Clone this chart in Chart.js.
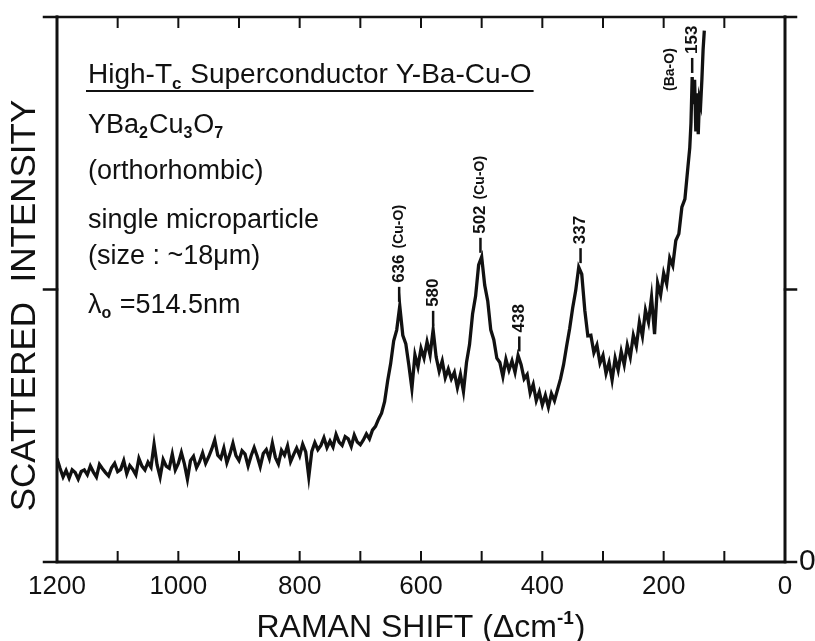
<!DOCTYPE html>
<html>
<head>
<meta charset="utf-8">
<script src="https://cdn.jsdelivr.net/npm/chart.js@4.4.1/dist/chart.umd.min.js"></script>
<style>
  html, body { margin: 0; padding: 0; background: #fff; }
  canvas { display: block; }
</style>
</head>
<body>
<canvas id="raman" width="815" height="641"></canvas>
<script>
// === DATA ===
// Raman shift, cm-1 (axis runs 1200 -> 0)
const shifts = [
  1200,1195,1190,1185,1180,1175,1170,1165,1160,1155,
  1150,1145,1140,1135,1130,1125,1120,1115,1110,1105,
  1100,1095,1090,1085,1080,1075,1070,1065,1060,1055,
  1050,1045,1040,1035,1030,1025,1020,1015,1010,1005,
  1000,995,990,985,980,975,970,965,960,955,
  950,945,940,935,930,925,920,915,910,905,
  900,895,890,885,880,875,870,865,860,855,
  850,845,840,835,830,825,820,815,810,805,
  800,795,790,785,780,775,770,765,760,755,
  750,745,740,735,730,725,720,715,710,705,
  700,695,690,685,680,675,670,665,660,655,
  650,645,640,635,630,625,620,615,610,605,
  600,595,590,585,580,575,570,565,560,555,
  550,545,540,535,530,525,520,515,510,505,
  500,495,490,485,480,475,470,465,460,455,
  450,445,440,435,430,425,420,415,410,405,
  400,395,390,385,380,375,370,365,360,355,
  350,345,340,335,330,325,320,315,310,305,
  300,295,290,285,280,275,270,265,260,255,
  250,245,240,235,230,225,220,215,210,205,
  200,195,190,185,180,175,170,165,
  160,157,155,153,151,149,147,145,143,141,139,137,135,133
];
// scattered intensity, arbitrary units (0 = bottom axis, 100 = top of frame)
const intensity = [
  19.0,17.2,15.6,16.8,15.4,16.9,16.4,15.2,16.6,16.9,
  16.0,17.6,16.5,15.6,17.9,17.1,16.4,15.8,17.3,18.1,
  16.6,17.0,18.6,16.2,17.7,17.0,16.0,19.0,17.6,16.9,
  18.3,17.4,21.6,17.8,15.6,18.8,17.6,17.2,19.8,16.9,
  18.1,20.1,18.0,15.2,18.6,19.4,17.3,18.4,20.0,18.1,
  19.3,20.7,22.4,19.6,19.0,20.9,18.2,19.8,21.8,19.5,
  18.6,20.4,19.8,17.6,19.5,21.0,19.4,17.5,19.9,20.6,
  19.0,21.8,19.2,18.0,20.5,19.6,21.3,18.4,19.7,20.9,
  19.5,21.6,20.2,15.6,20.3,21.9,20.6,21.4,22.8,21.0,
  22.2,21.1,23.4,22.0,21.4,23.0,22.6,21.2,23.3,22.0,
  21.5,22.4,23.5,22.6,24.2,24.9,26.2,27.3,29.4,33.2,
  36.4,40.6,42.6,47.0,41.6,40.0,36.1,31.8,38.0,35.8,
  39.2,37.4,40.4,38.0,42.6,37.6,35.0,36.9,33.8,35.4,
  33.6,34.8,32.0,34.4,31.3,36.6,39.9,45.5,48.8,54.5,
  56.0,50.8,47.9,42.6,40.8,37.4,36.6,34.0,37.2,35.2,
  36.9,34.8,37.9,36.2,33.6,34.4,31.0,32.6,29.6,31.2,
  28.8,30.6,28.4,30.9,29.6,31.6,33.6,36.2,39.6,42.8,
  46.6,49.8,54.1,52.8,46.2,41.5,41.6,38.4,39.8,36.5,
  37.9,34.6,36.6,33.4,37.4,35.2,38.6,36.2,39.8,37.6,
  41.6,39.6,44.0,41.4,46.2,44.0,48.6,41.8,51.2,49.0,
  53.0,51.0,55.8,54.4,59.0,60.2,65.1,66.6,
  72.5,76.0,80.5,89.0,84.0,88.5,79.0,86.0,78.5,85.0,84.0,88.5,94.0,97.5
];

// peak annotations
const peakShifts = [636, 580, 502, 438, 337, 153];
const peakLabels = ['636', '580', '502', '438', '337', '153'];
const peakModes  = ['(Cu-O)', '', '(Cu-O)', '', '', '(Ba-O)'];

// axis ticks
const xTickMarks = [1200, 1100, 1000, 900, 800, 700, 600, 500, 400, 300, 200, 100, 0];
const yTickMarks = [0, 50, 100];

const FONT = '"Liberation Sans", Arial, sans-serif';
const INK = '#111';

// draw text pieces in a row, subscripts smaller and lower
function richText(ctx, x, y, parts, size) {
  let cx = x;
  parts.forEach(p => {
    const small = typeof p !== 'string';
    const t = small ? (p.sub || p.sup) : p;
    ctx.font = small ? `bold ${Math.round(size * 0.6)}px ${FONT}` : `${size}px ${FONT}`;
    const dy = !small ? 0 : (p.sub ? size * 0.2 : -size * 0.42);
    ctx.fillText(t, cx, y + dy);
    cx += ctx.measureText(t).width + (small ? 1 : 0);
  });
  return cx;
}

// vertical text, reading bottom -> top, starting at (x, y)
function vText(ctx, text, x, y, font) {
  ctx.save();
  ctx.translate(x, y);
  ctx.rotate(-Math.PI / 2);
  ctx.font = font;
  ctx.textAlign = 'left';
  ctx.textBaseline = 'middle';
  ctx.fillText(text, 0, 0);
  const w = ctx.measureText(text).width;
  ctx.restore();
  return w;
}

const decor = {
  id: 'decor',
  afterDraw(chart) {
    const { ctx, chartArea: a, scales: { x, y } } = chart;
    ctx.save();
    ctx.strokeStyle = INK;
    ctx.fillStyle = INK;
    ctx.lineCap = 'square';

    // frame
    ctx.lineWidth = 3;
    ctx.beginPath();
    ctx.moveTo(a.left, a.top);
    ctx.lineTo(a.left, a.bottom);
    ctx.lineTo(a.right, a.bottom);
    ctx.lineTo(a.right, a.top);
    ctx.stroke();
    ctx.lineWidth = 2.5;
    ctx.beginPath();
    ctx.moveTo(a.left, a.top);
    ctx.lineTo(a.right, a.top);
    ctx.stroke();

    // x ticks point inward, top and bottom
    ctx.lineWidth = 2;
    xTickMarks.forEach(v => {
      const px = x.getPixelForValue(v);
      ctx.beginPath();
      ctx.moveTo(px, a.bottom);
      ctx.lineTo(px, a.bottom - 10);
      ctx.moveTo(px, a.top);
      ctx.lineTo(px, a.top + 10);
      ctx.stroke();
    });

    // y ticks point outward, both sides
    ctx.lineWidth = 2.5;
    yTickMarks.forEach(v => {
      const py = y.getPixelForValue(v);
      ctx.beginPath();
      ctx.moveTo(a.left - 13, py);
      ctx.lineTo(a.left, py);
      ctx.moveTo(a.right, py);
      ctx.lineTo(a.right + 11, py);
      ctx.stroke();
    });

    // right-hand zero
    ctx.font = `30px ${FONT}`;
    ctx.textAlign = 'left';
    ctx.textBaseline = 'middle';
    ctx.fillText('0', a.right + 14, y.getPixelForValue(0));

    // axis titles
    ctx.textBaseline = 'alphabetic';
    const xt = ['RAMAN SHIFT (\u0394cm', { sup: '-1' }, ')'];
    let tw = 0;
    xt.forEach(p => {
      const small = typeof p !== 'string';
      ctx.font = small ? `bold 19px ${FONT}` : `32px ${FONT}`;
      tw += ctx.measureText(small ? p.sup : p).width + (small ? 1 : 0);
    });
    richText(ctx, (a.left + a.right) / 2 - tw / 2, a.bottom + 75, xt, 32);

    ctx.save();
    ctx.translate(a.left - 32, (a.top + a.bottom) / 2 + 16);
    ctx.rotate(-Math.PI / 2);
    ctx.font = `35px ${FONT}`;
    ctx.textAlign = 'center';
    ctx.textBaseline = 'middle';
    ctx.fillText('SCATTERED  INTENSITY', 0, 0);
    ctx.restore();

    // sample description block
    ctx.textAlign = 'left';
    ctx.textBaseline = 'alphabetic';
    const x0 = a.left + 31;
    const end = richText(ctx, x0, a.top + 66, ['High-T', { sub: 'c' }, ' Superconductor Y-Ba-Cu-O'], 28);
    ctx.lineWidth = 2;
    ctx.beginPath();
    ctx.moveTo(x0 - 1, a.top + 74);
    ctx.lineTo(end + 1, a.top + 74);
    ctx.stroke();
    richText(ctx, x0, a.top + 116, ['YBa', { sub: '2' }, 'Cu', { sub: '3' }, 'O', { sub: '7' }], 27);
    richText(ctx, x0, a.top + 162, ['(orthorhombic)'], 27);
    richText(ctx, x0, a.top + 211, ['single microparticle'], 27);
    richText(ctx, x0, a.top + 247, ['(size : ~18\u03bcm)'], 27);
    richText(ctx, x0, a.top + 296, ['\u03bb', { sub: 'o' }, ' =514.5nm'], 27);

    // peak markers
    peakShifts.forEach((s, i) => {
      let top = -Infinity;
      shifts.forEach((sv, j) => {
        if (Math.abs(sv - s) <= 4) top = Math.max(top, intensity[j]);
      });
      const px = x.getPixelForValue(s);
      const py = y.getPixelForValue(top);
      ctx.lineWidth = 2.5;
      ctx.lineCap = 'butt';
      ctx.beginPath();
      ctx.moveTo(px, py - 4);
      ctx.lineTo(px, py - 19);
      ctx.stroke();
      const w = vText(ctx, peakLabels[i], px, py - 23, `bold 17px ${FONT}`);
      if (peakModes[i]) {
        if (s < 200) vText(ctx, peakModes[i], px - 22, py + 14, `bold 14px ${FONT}`);
        else vText(ctx, peakModes[i], px, py - 23 - w - 6, `bold 14px ${FONT}`);
      }
    });

    ctx.restore();
  }
};

(() => {
  const el = document.getElementById('raman');
  if (!el || !window.Chart) return;

  Chart.defaults.font.family = FONT;
  Chart.defaults.color = INK;

  const points = shifts.map((s, i) => ({ x: s, y: intensity[i] }));

  new Chart(el.getContext('2d'), {
    type: 'line',
    data: {
      datasets: [{
        data: points,
        borderColor: INK,
        borderWidth: 3.3,
        pointRadius: 0,
        tension: 0,
        fill: false,
        borderJoinStyle: 'miter'
      }]
    },
    options: {
      responsive: false,
      animation: false,
      layout: { padding: { top: 17, right: 30, left: 0, bottom: 0 } },
      plugins: {
        legend: { display: false },
        tooltip: { enabled: false }
      },
      scales: {
        x: {
          type: 'linear',
          reverse: true,
          min: 0,
          max: 1200,
          grid: { display: false, drawTicks: false },
          border: { display: false },
          ticks: {
            stepSize: 200,
            maxRotation: 0,
            autoSkip: false,
            padding: 9,
            color: INK,
            font: { size: 26, family: FONT },
            callback: (v) => String(v)
          },
          afterFit: (scale) => { scale.height = 79; }
        },
        y: {
          min: 0,
          max: 100,
          grid: { display: false, drawTicks: false },
          border: { display: false },
          ticks: { display: false },
          afterFit: (scale) => { scale.width = 57; }
        }
      }
    },
    plugins: [decor]
  });
})();
</script>
</body>
</html>
